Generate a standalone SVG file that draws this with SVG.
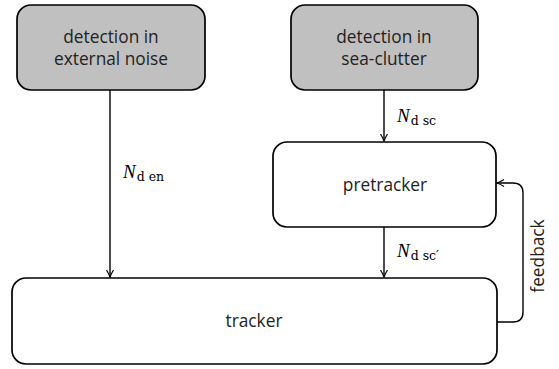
<svg xmlns="http://www.w3.org/2000/svg" width="559" height="369" viewBox="0 0 559 369">
<style>
.box{stroke:#000;stroke-width:1.7;}
.g{fill:#c0c0c0;}
.w{fill:#fff;}
.t{font-family:"Open Sans","Liberation Sans",sans-serif;font-size:17.3px;fill:#222;text-anchor:middle;}
.m{font-family:"DejaVu Serif","Liberation Serif",serif;fill:#000;}
.n{font-family:"Liberation Serif",serif;font-size:19px;font-style:italic;}
.s{font-size:12.5px;}
.c{fill:none;stroke:#000;stroke-width:1.4;}
</style>
<defs>
<marker id="ah" markerWidth="10" markerHeight="10" refX="8" refY="5" orient="auto" markerUnits="userSpaceOnUse">
<path d="M1,1.5 Q5,4 8,5 Q5,6 1,8.5" fill="none" stroke="#000" stroke-width="1.2"/>
</marker>
</defs>
<g id="connectors">
<line class="c" x1="110" y1="90" x2="110" y2="277" marker-end="url(#ah)"/>
<line class="c" x1="384" y1="90" x2="384" y2="141" marker-end="url(#ah)"/>
<line class="c" x1="384" y1="227" x2="384" y2="277" marker-end="url(#ah)"/>
<path class="c" d="M497,322 H513 Q523,322 523,312 V193 Q523,183 513,183 H497" marker-end="url(#ah)"/>
<text class="m" x="123" y="178"><tspan class="n">N</tspan><tspan class="s" dx="1" dy="3">d en</tspan></text>
<text class="m" x="397" y="122"><tspan class="n">N</tspan><tspan class="s" dx="1" dy="3">d sc</tspan></text>
<text class="m" x="397" y="257"><tspan class="n">N</tspan><tspan class="s" dx="1" dy="3">d sc′</tspan></text>
<text class="t" transform="translate(544,256) rotate(-90)">feedback</text>
</g>
<g id="det-noise">
<rect class="box g" x="17" y="5" width="188" height="85" rx="14"/>
<text class="t" x="111" y="43">detection in</text>
<text class="t" x="111" y="65">external noise</text>
</g>
<g id="det-clutter">
<rect class="box g" x="291" y="5" width="187" height="85" rx="14"/>
<text class="t" x="384" y="43">detection in</text>
<text class="t" x="384" y="65">sea-clutter</text>
</g>
<g id="pretracker">
<rect class="box w" x="273" y="142" width="223" height="85" rx="14"/>
<text class="t" x="385" y="191">pretracker</text>
</g>
<g id="tracker">
<rect class="box w" x="12" y="278" width="485" height="86" rx="14"/>
<text class="t" x="254" y="327">tracker</text>
</g>
</svg>
